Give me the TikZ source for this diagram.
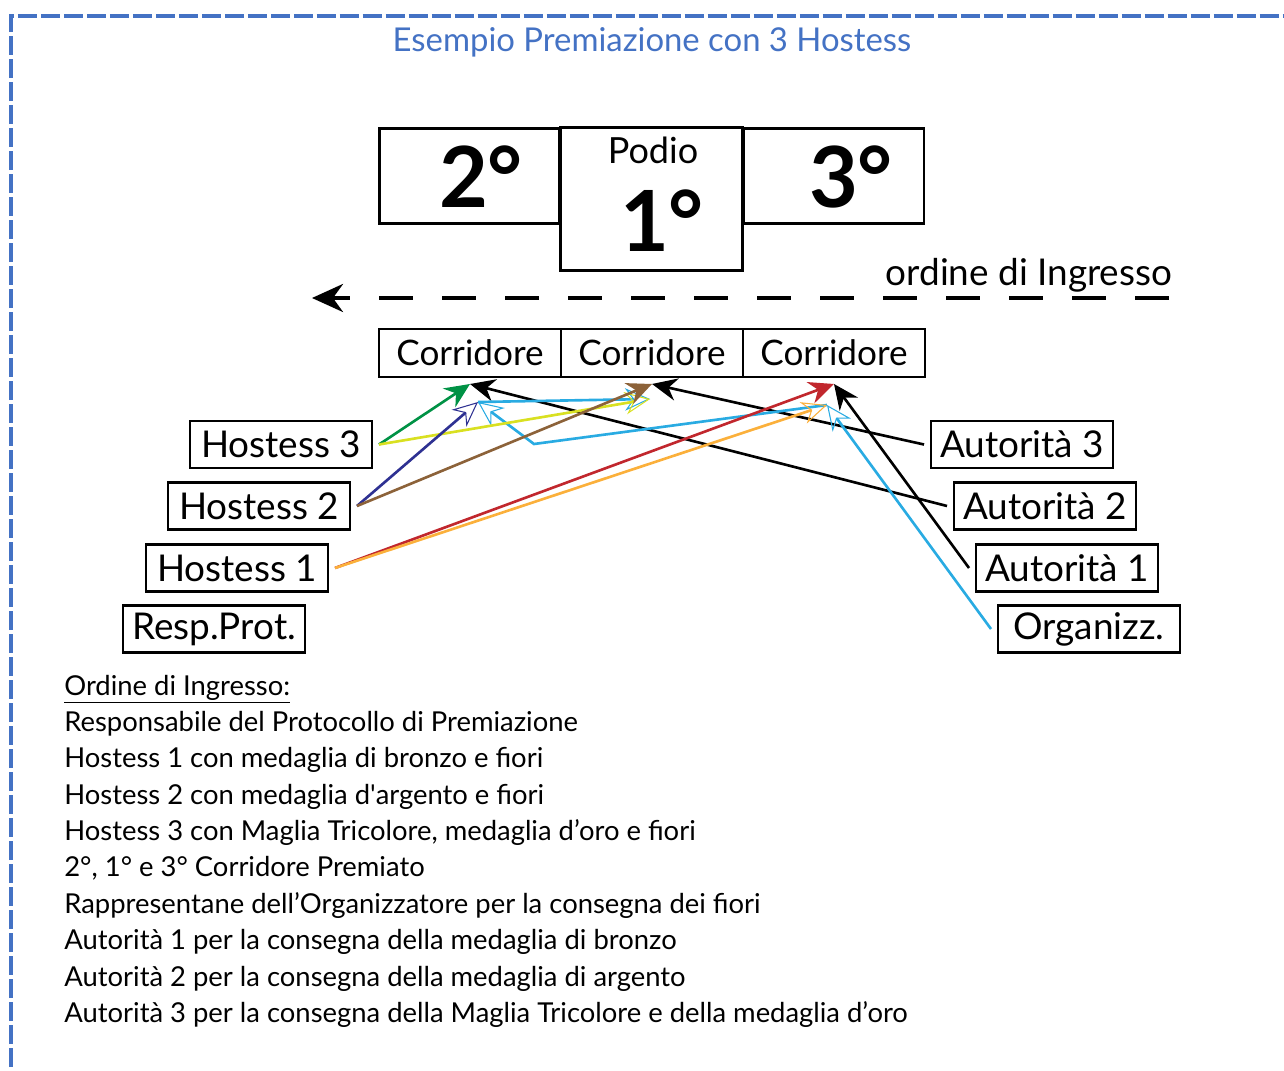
\documentclass[tikz,border=0pt]{standalone}
\usepackage{fontspec}
\setmainfont{Lato}
\usetikzlibrary{arrows.meta}
\definecolor{frame}{HTML}{4472C4}
\definecolor{hgreen}{HTML}{009245}
\definecolor{hyellow}{HTML}{D9E021}
\definecolor{hnavy}{HTML}{2E3192}
\definecolor{hbrown}{HTML}{8C6239}
\definecolor{hred}{HTML}{C1272D}
\definecolor{horange}{HTML}{FBB03B}
\definecolor{hcyan}{HTML}{29ABE2}

\begin{document}
\begin{tikzpicture}[x=0.02cm, y=-0.02cm,
    box/.style={draw, line width=1.6pt, inner sep=0pt, minimum width=3.64cm, minimum height=0.94cm, font=\fontsize{21}{24}\selectfont},
    who/.style={box, outer sep=0.14cm},
    corr/.style={box, minimum height=0.96cm, outer sep=0.14cm, font=\fontsize{20}{24}\selectfont},
    stand/.style={draw, line width=1.7pt, inner sep=0pt, minimum width=3.62cm, minimum height=1.92cm},
    big/.style={font=\fontsize{48}{50}\selectfont\bfseries},
    walk/.style={line width=1.5pt, -{Stealth[length=0.5cm, width=0.45cm]}},
    walko/.style={line width=1.5pt, -{Stealth[open, length=0.5cm, width=0.45cm, line width=0.6pt]}}]
    \useasboundingbox (0,0) rectangle (1284,1071);
    \draw[frame, line width=2pt, dash pattern=on 0.38cm off 0.08cm] (11,1090) |- (1300,16);
    \node[text=frame, font=\fontsize{18.7}{22}\selectfont] (title) at (652,42) {Esempio Premiazione con 3 Hostess};

    \node[stand] (second) at (469.5,176) {};
    \node[stand, minimum width=3.66cm, minimum height=2.88cm] (first) at (651.5,199) {};
    \node[stand] (third) at (833.5,176) {};
    \node[big] (n2) at (481,177) {2°};
    \node[font=\fontsize{20.5}{24}\selectfont] (podio) at (653,150) {Podio};
    \node[big] (n1) at (662,221) {1°};
    \node[big] (n3) at (851,177) {3°};

    \node[font=\fontsize{21}{24}\selectfont] (order) at (1029,275) {ordine di Ingresso};
    \coordinate (gofrom) at (1172,298);
    \coordinate (goto) at (312,298);
    \draw[line width=2.3pt, dash pattern=on 0.68cm off 0.58cm, dash phase=0.3cm, {Stealth[length=0.62cm, width=0.56cm]}-] (goto) -- (gofrom);

    \node[corr] (c1) at (470,353) {Corridore};
    \node[corr] (c2) at (652,353) {Corridore};
    \node[corr] (c3) at (834,353) {Corridore};

    \node[who] (h3) at (281,444.5) {Hostess 3};
    \node[who] (h2) at (259,506) {Hostess 2};
    \node[who] (h1) at (237,568) {Hostess 1};
    \node[who] (resp) at (214,629) {Resp.Prot.};
    \node[who] (a3) at (1022,444.5) {Autorità 3};
    \node[who] (a2) at (1045,506) {Autorità 2};
    \node[who] (a1) at (1067,568) {Autorità 1};
    \node[who] (org) at (1089,629) {Organizz.};

    \coordinate (s1) at (478,402);
    \coordinate (s2) at (650,399);
    \coordinate (s3) at (827,405);
    \coordinate (turn) at (534,444);

    \draw[walk] (a3.west) -- (c2.south);
    \draw[walk] (a2.west) -- (c1.south);
    \draw[walk] (a1.west) -- (c3.south);
    \draw[walko, hcyan] (org.west) -- (s3);
    \draw[walko, hcyan] (s3) -- (turn) -- (s1);
    \draw[walko, hcyan] (s1) -- (s2);
    \draw[walk, hgreen] (h3.east) -- (c1.south);
    \draw[walko, hyellow] (h3.east) -- (s2);
    \draw[walko, hnavy] (h2.east) -- (s1);
    \draw[walk, hbrown] (h2.east) -- (c2.south);
    \draw[walk, hred] (h1.east) -- (c3.south);
    \draw[walko, horange] (h1.east) -- (s3);

    \node[anchor=north west, align=left, inner sep=0pt, font=\fontsize{15.6}{20.7}\selectfont] (list) at (64,674.5) {%
        \underline{Ordine di Ingresso:}\\
        Responsabile del Protocollo di Premiazione\\
        Hostess 1 con medaglia di bronzo e fiori\\
        Hostess 2 con medaglia d\textquotesingle argento e fiori\\
        Hostess 3 con Maglia Tricolore, medaglia d’oro e fiori\\
        2°, 1° e 3° Corridore Premiato\\
        Rappresentane dell’Organizzatore per la consegna dei fiori\\
        Autorità 1 per la consegna della medaglia di bronzo\\
        Autorità 2 per la consegna della medaglia di argento\\
        Autorità 3 per la consegna della Maglia Tricolore e della medaglia d’oro};
\end{tikzpicture}
\end{document}
